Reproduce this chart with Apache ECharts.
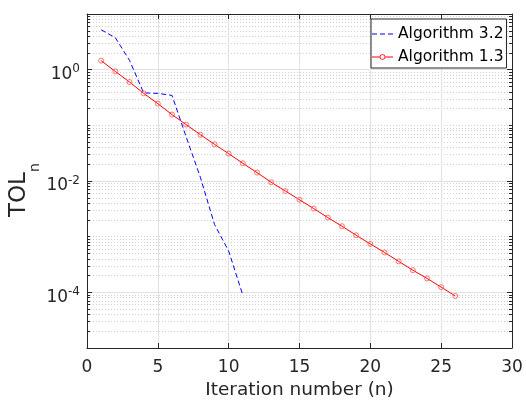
<!DOCTYPE html>
<html>
<head>
<meta charset="utf-8">
<script src="https://cdn.jsdelivr.net/npm/echarts@6/dist/echarts.min.js"></script>
<style>
  html, body { margin: 0; padding: 0; background: #fff; }
  #container { width: 526px; height: 414px; }
</style>
</head>
<body>
<div id="container"></div>
<script>
  // iteration numbers and TOL_n values
  var iterAlg32 = [1, 2, 3, 4, 5, 6, 7, 8, 9, 10, 11];
  var tolAlg32 = [5.2, 3.75, 1.47, 0.383, 0.375, 0.345, 0.062, 0.0117, 0.00166, 0.00055, 0.000089];

  var iterAlg13 = [1, 2, 3, 4, 5, 6, 7, 8, 9, 10, 11, 12, 13, 14, 15, 16, 17, 18, 19, 20, 21, 22, 23, 24, 25, 26];
  var tolAlg13 = [1.45, 0.93, 0.60, 0.376, 0.245, 0.156, 0.103, 0.068, 0.0456, 0.031, 0.0208, 0.01415,
    0.0095, 0.0066, 0.0046, 0.0032, 0.0022, 0.00154, 0.00106, 0.00074, 0.00052, 0.00036,
    0.00025, 0.000178, 0.000124, 0.000086];

  var xTicks = [0, 5, 10, 15, 20, 25, 30];
  var yMajorTicks = [1e-4, 1e-2, 1];
  var yRange = [1e-5, 10];

  // log minor ticks 2..9 x 10^e plus the unlabeled decades
  var yMinorTicks = [];
  for (var e = -5; e <= 0; e++) {
    for (var k = 1; k <= 9; k++) {
      var v = Number(k + 'e' + e);
      if (v <= yRange[0] || yMajorTicks.indexOf(v) >= 0) continue;
      yMinorTicks.push(v);
    }
  }

  var FONT = 'DejaVu Sans';
  var AXIS = '#262626';

  // legend glyphs: dashed line, and line with open circle
  var ICON_DASH = 'path://M0,6.5h5v1h-5z M8,6.5h5v1h-5z M16,6.5h5v1h-5z';
  var ICON_CIRCLE = 'path://M0,6.5H7.7V7.5H0Z M13.3,6.5H21V7.5H13.3Z' +
    ' M13.3,7A2.8,2.8 0 1,1 7.7,7A2.8,2.8 0 1,1 13.3,7Z' +
    ' M12.6,7A2.1,2.1 0 1,0 8.4,7A2.1,2.1 0 1,0 12.6,7Z';

  function pairs(xs, ys) {
    return xs.map(function (x, i) { return [x, ys[i]]; });
  }

  function logAxis(position, ticks, opts) {
    return Object.assign({
      type: 'log',
      logBase: 10,
      position: position,
      min: yRange[0],
      max: yRange[1],
      axisLine: { show: false },
      axisTick: { show: true, inside: true, length: 3, customValues: ticks, lineStyle: { color: AXIS, width: 1 } },
      axisLabel: { show: false },
      splitLine: { show: false }
    }, opts || {});
  }

  var chart = echarts.init(document.getElementById('container'), null, { renderer: 'canvas' });

  chart.setOption({
    animation: false,
    backgroundColor: '#fff',
    grid: { left: 87, right: 14, top: 14, bottom: 66, containLabel: false, outerBoundsMode: 'none' },
    legend: {
      orient: 'vertical',
      left: 371,
      top: 19,
      backgroundColor: '#fff',
      borderColor: AXIS,
      borderWidth: 1,
      borderRadius: 0,
      padding: [7, 3, 3, 1],
      itemWidth: 21,
      itemHeight: 14,
      itemGap: 7,
      symbolKeepAspect: true,
      textStyle: { fontFamily: FONT, fontSize: 15.5, color: '#000' },
      data: [
        { name: 'Algorithm 3.2', icon: ICON_DASH, itemStyle: { color: '#0000ff', borderWidth: 0 } },
        { name: 'Algorithm 1.3', icon: ICON_CIRCLE, itemStyle: { color: '#ff0000', borderWidth: 0 } }
      ]
    },
    xAxis: [{
      type: 'value',
      position: 'bottom',
      min: xTicks[0],
      max: xTicks[xTicks.length - 1],
      interval: 5,
      name: 'Iteration number (n)',
      nameLocation: 'middle',
      nameGap: 33,
      nameTextStyle: { fontFamily: FONT, fontSize: 18.5, color: AXIS },
      axisLine: { show: true, lineStyle: { color: AXIS, width: 1 } },
      axisTick: { show: true, inside: true, length: 5, lineStyle: { color: AXIS } },
      axisLabel: { fontFamily: FONT, fontSize: 17, color: AXIS, margin: 11 },
      splitLine: { show: true, lineStyle: { color: '#e1e1e1', width: 1 } }
    }, {
      type: 'value',
      position: 'top',
      min: xTicks[0],
      max: xTicks[xTicks.length - 1],
      interval: 5,
      axisLine: { show: true, lineStyle: { color: AXIS, width: 1 } },
      axisTick: { show: true, inside: true, length: 5, lineStyle: { color: AXIS } },
      axisLabel: { show: false },
      splitLine: { show: false }
    }],
    yAxis: [
      logAxis('left', yMajorTicks, {
        axisLine: { show: true, lineStyle: { color: AXIS, width: 1 } },
        axisTick: { show: true, inside: true, length: 5, customValues: yMajorTicks, lineStyle: { color: AXIS } },
        axisLabel: {
          show: true,
          customValues: yMajorTicks,
          margin: 7,
          padding: [10, 0, 0, 0],
          formatter: function (val) {
            var p = Math.round(Math.log10(val));
            return '{b|10}{s|' + p + '}';
          },
          rich: {
            b: { fontFamily: FONT, fontSize: 17, color: AXIS, lineHeight: 23 },
            s: { fontFamily: FONT, fontSize: 12, color: AXIS, lineHeight: 7, verticalAlign: 'top' }
          }
        },
        splitLine: { show: true, lineStyle: { color: '#e1e1e1', width: 1 } },
        name: '{t|TOL}{n|n}{z| }',
        nameLocation: 'middle',
        nameGap: 45,
        nameMoveOverlap: false,
        nameTextStyle: {
          padding: [0, 18, 0, 0],
          rich: {
            t: { fontFamily: FONT, fontSize: 23, color: AXIS, lineHeight: 24, verticalAlign: 'top' },
            n: { fontFamily: FONT, fontSize: 14, color: AXIS, lineHeight: 12, verticalAlign: 'bottom' },
            z: { fontSize: 1, lineHeight: 34 }
          }
        }
      }),
      logAxis('left', yMinorTicks, {
        splitLine: { show: true, lineStyle: { color: '#cfcfcf', width: 1, type: [1, 2] } }
      }),
      logAxis('right', yMajorTicks, {
        axisLine: { show: true, lineStyle: { color: AXIS, width: 1 } },
        axisTick: { show: true, inside: true, length: 5, customValues: yMajorTicks, lineStyle: { color: AXIS } }
      }),
      logAxis('right', yMinorTicks)
    ],
    series: [{
      name: 'Algorithm 3.2',
      type: 'line',
      xAxisIndex: 0,
      yAxisIndex: 0,
      data: pairs(iterAlg32, tolAlg32),
      symbol: 'none',
      color: '#0000ff',
      lineStyle: { color: '#0000ff', width: 1, type: [5, 3] },
      z: 5
    }, {
      name: 'Algorithm 1.3',
      type: 'line',
      xAxisIndex: 0,
      yAxisIndex: 0,
      data: pairs(iterAlg13, tolAlg13),
      symbol: 'circle',
      symbolSize: 5,
      color: '#ff0000',
      itemStyle: { color: 'rgba(255,255,255,0)', borderColor: '#ff5050', borderWidth: 0.8 },
      lineStyle: { color: '#ff0000', width: 1 },
      z: 6
    }]
  });

  window.addEventListener('resize', function () {
    chart.resize();
  });
</script>
</body>
</html>
